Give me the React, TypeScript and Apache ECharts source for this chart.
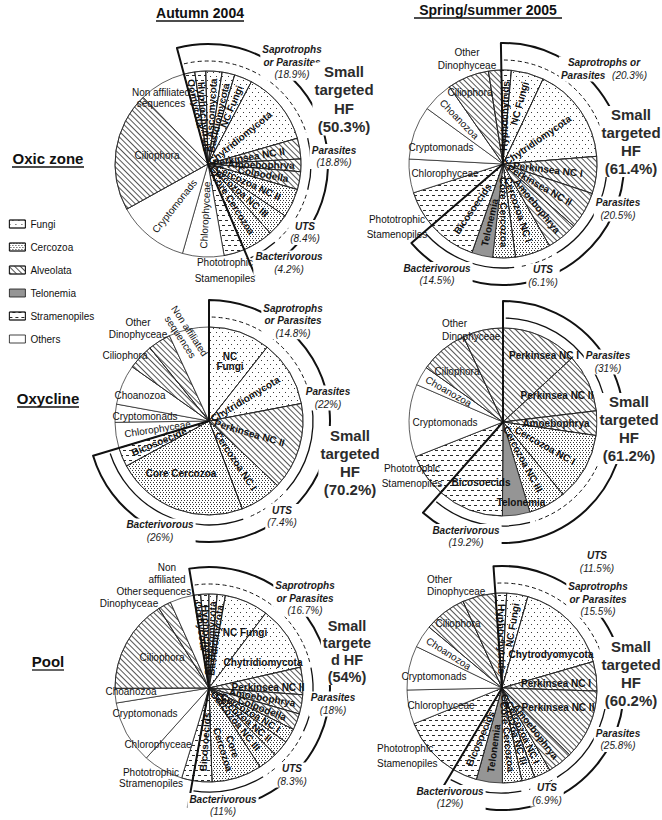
import React, { useEffect, useRef } from "react";
import * as echarts from "echarts";

const FONT = '"Liberation Sans", Arial, Helvetica, sans-serif';

// ---------------- DATA ----------------
const legendNames = ["Fungi", "Cercozoa", "Alveolata", "Telonemia", "Stramenopiles", "Others"];
const legendKinds = ["F", "C", "A", "T", "S", "O"];

// Autumn 2004 - Oxic zone
const tlNames = ["Oomycota", "Hyphochytrids", "Ascomycota", "Basidiomycota", "NC Fungi", "Chytridiomycota", "Perkinsea NC II", "Amoebophrya", "Colpodella", "Cercozoa NC II", "Cercozoa NC III", "Core Cercozoa", "Phototrophic Stamenopiles", "Chlorophyceae", "Cryptomonads", "Ciliophora", "Non affiliated sequences"];
const tlValues = [1.9, 1.9, 2.8, 2.2, 3.1, 12.8, 3.6, 2.2, 3.1, 5.0, 3.9, 5.3, 3.6, 7.2, 12.5, 20.8, 8.1];
const tlKinds = ["S", "S", "F", "F", "F", "F", "A", "A", "A", "C", "C", "C", "S", "O", "O", "A", "O"];
const tlGroupNames = ["Saprotrophs or Parasites", "Parasites", "UTS", "Bacterivorous"];
const tlGroupCounts = [6, 3, 2, 1];
const tlGroupPct = [18.9, 18.8, 8.4, 4.2];
const tlTargetedHF = 50.3;

// Spring/summer 2005 - Oxic zone
const trNames = ["Hyphochytrids", "NC Fungi", "Chytridiomycota", "Perkinsea NC I", "Perkinsea NC II", "Amoebophrya", "Cercozoa NC I", "Core Cercozoa", "Telonemia", "Bicosoecids", "Phototrophic Stamenopiles", "Chlorophyceae", "Cryptomonads", "Choanozoa", "Ciliophora", "Other Dinophyceae"];
const trValues = [1.7, 5.6, 16.7, 6.4, 6.4, 5.3, 6.1, 3.9, 3.6, 8.3, 6.4, 5.8, 9.2, 5.3, 7.2, 2.2];
const trKinds = ["S", "F", "F", "A", "A", "A", "C", "C", "T", "S", "S", "O", "O", "O", "A", "A"];
const trGroupNames = ["Saprotrophs or Parasites", "Parasites", "UTS", "Bacterivorous"];
const trGroupCounts = [3, 3, 1, 3];
const trGroupPct = [20.3, 20.5, 6.1, 14.5];
const trTargetedHF = 61.4;

// Autumn 2004 - Oxycline
const mlNames = ["NC Fungi", "Chytridiomycota", "Perkinsea NC II", "Cercozoa NC I", "Core Cercozoa", "Bicosoecide", "Chlorophyceae", "Cryptomonads", "Choanozoa", "Ciliophora", "Other Dinophyceae", "Non affiliated sequences"];
const mlValues = [10.6, 11.4, 15.0, 7.2, 22.8, 3.3, 4.4, 3.1, 6.9, 4.4, 3.9, 6.9];
const mlKinds = ["F", "F", "A", "C", "C", "S", "O", "O", "O", "A", "A", "O"];
const mlGroupNames = ["Saprotrophs or Parasites", "Parasites", "UTS", "Bacterivorous"];
const mlGroupCounts = [2, 1, 1, 2];
const mlGroupPct = [14.8, 22, 7.4, 26];
const mlTargetedHF = 70.2;

// Spring/summer 2005 - Oxycline
const mrNames = ["Perkinsea NC I", "Perkinsea NC II", "Amoebophrya", "Cercozoa NC I", "Cercozoa NC III", "Telonemia", "Bicosoecids", "Phototrophic Stamenopiles", "Cryptomonads", "Choanozoa", "Ciliophora", "Other Dinophyceae"];
const mrValues = [13.1, 10.0, 4.2, 11.7, 6.4, 4.7, 11.4, 7.5, 12.5, 3.3, 8.3, 6.9];
const mrKinds = ["A", "A", "A", "C", "C", "T", "S", "S", "O", "O", "A", "A"];
const mrGroupNames = ["Parasites", "UTS", "Bacterivorous"];
const mrGroupCounts = [3, 2, 2];
const mrGroupPct = [31, 11.5, 19.2];
const mrTargetedHF = 61.2;

// Autumn 2004 - Pool
const blNames = ["Oomycota", "Hyphochytrids", "Ascomycota", "Basidiomycota", "NC Fungi", "Chytridiomycota", "Perkinsea NC II", "Amoebophrya", "Colpodella", "Cercozoa NC I", "Cercozoa NC II", "Cercozoa NC III", "Core Cercozoa", "Bicosoecids", "Phototrophic Stramenopiles", "Chlorophyceae", "Cryptomonads", "Choanozoa", "Ciliophora", "Other Dinophyceae", "Non affiliated sequences"];
const blValues = [1.2, 1.4, 1.4, 1.4, 7.5, 11.1, 4.7, 3.3, 2.8, 2.5, 2.8, 3.3, 8.6, 3.3, 1.9, 6.9, 10.8, 2.5, 16.1, 2.2, 4.1];
const blKinds = ["S", "S", "F", "F", "F", "F", "A", "A", "A", "C", "C", "C", "C", "S", "S", "O", "O", "O", "A", "A", "O"];
const blGroupNames = ["Saprotrophs or Parasites", "Parasites", "UTS", "Bacterivorous"];
const blGroupCounts = [6, 3, 3, 2];
const blGroupPct = [16.7, 18, 8.3, 11];
const blTargetedHF = 54;

// Spring/summer 2005 - Pool
const brNames = ["Hyphochytrids", "NC Fungi", "Chytrodyomycota", "Perkinsea NC I", "Perkinsea NC II", "Amoebophrya", "Cercozoa NC I", "Cercozoa NC III", "Core Cercozoa", "Telonemia", "Bicosoecids", "Phototrophic Stamenopiles", "Chlorophyceae", "Cryptomonads", "Choanozoa", "Ciliophora", "Other Dinophyceae"];
const brValues = [1.9, 3.6, 16.1, 5.0, 11.9, 4.2, 2.8, 2.2, 3.3, 4.4, 4.2, 10.3, 5.8, 7.5, 3.9, 7.2, 5.6];
const brKinds = ["S", "F", "F", "A", "A", "A", "C", "C", "C", "T", "S", "S", "O", "O", "O", "A", "A"];
const brGroupNames = ["Saprotrophs or Parasites", "Parasites", "UTS", "Bacterivorous"];
const brGroupCounts = [3, 3, 2, 3];
const brGroupPct = [15.5, 25.8, 6.9, 12];
const brTargetedHF = 60.2;

// ---------------- STYLE / LAYOUT ----------------
const decals: Record<string, any> = {
  F: { symbol: "rect", symbolSize: 1, color: "#3a3a3a", dashArrayX: [[1, 5], [0, 3, 1, 2]], dashArrayY: [1, 3] },
  C: { symbol: "rect", symbolSize: 1, color: "#333333", dashArrayX: [[1, 2], [0, 1, 1, 1]], dashArrayY: [1, 1] },
  A: { symbol: "rect", symbolSize: 1, color: "#555555", dashArrayX: [1, 0], dashArrayY: [1, 3], rotation: Math.PI / 4 },
  S: { symbol: "rect", symbolSize: 1, color: "#2a2a2a", dashArrayX: [[3, 3], [0, 3, 3, 0]], dashArrayY: [1, 4] },
};

function sliceStyle(kind: string) {
  const s: any = {
    color: kind === "T" ? "#959595" : "#ffffff",
    borderColor: "#1a1a1a",
    borderWidth: 0.7,
  };
  if (decals[kind]) s.decal = decals[kind];
  return s;
}

type OutLabel = { text: string; x: number; y: number; lh: number; align?: string; rotation?: number };
type Layout = {
  cx: number; cy: number; R: number; start: number;
  pos: Record<string, number[]>;
  hidden: string[];
  labelText?: Record<string, string>;
  out: OutLabel[];
  groupPos: number[][];
  sapTwoLine?: boolean;
  hfPos: number[]; hfLH: number; hfSize?: number; hfLines?: string[];
};

const layouts: Record<string, Layout> = {
  tl: {
    cx: 208, cy: 164, R: 93, start: -15,
    pos: { Ciliophora: [157, 155] },
    hidden: ["Non affiliated sequences", "Phototrophic Stamenopiles"],
    out: [
      { text: "Non affiliated\nsequences", x: 161, y: 97.5, lh: 11 },
      { text: "Phototrophic\nStamenopiles", x: 225, y: 270, lh: 16 },
    ],
    groupPos: [[292, 62], [334, 156.5], [305, 232.5], [289, 263]],
    hfPos: [344, 99], hfLH: 18.3,
  },
  tr: {
    cx: 503, cy: 164, R: 94, start: -1,
    pos: { Chlorophyceae: [445, 173], Cryptomonads: [441, 147], Ciliophora: [470, 92] },
    hidden: ["Other Dinophyceae", "Phototrophic Stamenopiles"],
    out: [
      { text: "Other\nDinophyceae", x: 467, y: 58.5, lh: 13 },
      { text: "Phototrophic\nStamenopiles", x: 397, y: 226.5, lh: 15 },
    ],
    groupPos: [[604, 69], [618, 209], [543, 276], [437, 274.5]],
    sapTwoLine: true,
    hfPos: [631, 141.5], hfLH: 17.7,
  },
  ml: {
    cx: 209, cy: 421, R: 94, start: 0,
    pos: { "NC Fungi": [230, 361], "Core Cercozoa": [181, 473], Cryptomonads: [145, 416], Choanozoa: [140, 395] },
    hidden: ["Other Dinophyceae", "Ciliophora", "Non affiliated sequences"],
    labelText: { "NC Fungi": "NC\nFungi" },
    out: [
      { text: "Other\nDinophyceae", x: 138, y: 328, lh: 12 },
      { text: "Ciliophora", x: 125, y: 355, lh: 12 },
      { text: "Non affiliated\nsequences", x: 185, y: 334, lh: 11, rotation: -0.99 },
    ],
    groupPos: [[293, 320.5], [328, 398], [282, 516.5], [160, 531]],
    hfPos: [350, 462], hfLH: 18,
  },
  mr: {
    cx: 503, cy: 422, R: 94, start: 0,
    pos: {
      "Perkinsea NC I": [544, 355], "Perkinsea NC II": [557, 395], Amoebophrya: [556, 423],
      Telonemia: [521, 502], Bicosoecids: [481, 482], Cryptomonads: [445, 422], Ciliophora: [457, 371],
    },
    hidden: ["Other Dinophyceae", "Phototrophic Stamenopiles"],
    out: [
      { text: "Other\nDinophyceae", x: 442, y: 329.5, lh: 13, align: "left" },
      { text: "Phototrophic\nStamenopiles", x: 412, y: 475.5, lh: 15 },
    ],
    groupPos: [[608, 362], [597, 562], [466, 536.5]],
    hfPos: [629, 428.5], hfLH: 17.7,
  },
  bl: {
    cx: 209, cy: 688, R: 94, start: -9.4,
    pos: {
      "NC Fungi": [245, 632], Chytridiomycota: [263, 662], "Perkinsea NC II": [268, 687],
      Chlorophyceae: [158, 744], Cryptomonads: [145, 713], Choanozoa: [131, 691], Ciliophora: [162, 657],
    },
    hidden: ["Non affiliated sequences", "Other Dinophyceae", "Phototrophic Stramenopiles"],
    labelText: { "Core Cercozoa": "Core\nCercozoa" },
    out: [
      { text: "Non\naffiliated\nsequences", x: 167, y: 579, lh: 12 },
      { text: "Other\nDinophyceae", x: 129, y: 597, lh: 12 },
      { text: "Phototrophic\nStramenopiles", x: 151, y: 777.5, lh: 11 },
    ],
    groupPos: [[305, 598], [333, 704], [292, 775], [223, 805.5]],
    hfPos: [347, 651], hfLH: 17, hfSize: 14.5, hfLines: ["Small", "targete", "d HF"],
  },
  br: {
    cx: 502, cy: 688, R: 95, start: -4,
    pos: {
      Chytrodyomycota: [551, 654], "Perkinsea NC I": [556, 683], "Perkinsea NC II": [558, 707],
      Chlorophyceae: [441, 705], Cryptomonads: [434, 676], Ciliophora: [458, 623],
    },
    hidden: ["Other Dinophyceae", "Phototrophic Stamenopiles"],
    out: [
      { text: "Other\nDinophyceae", x: 427, y: 585, lh: 12, align: "left" },
      { text: "Phototrophic\nStamenopiles", x: 377, y: 755.5, lh: 15, align: "left" },
    ],
    groupPos: [[598, 599], [618, 739.5], [547, 794], [450, 797.5]],
    hfPos: [631, 673], hfLH: 18,
  },
};

type PanelData = {
  names: string[]; values: number[]; kinds: string[];
  groupNames: string[]; groupCounts: number[]; groupPct: number[]; hf: number;
};

const panels: [string, PanelData][] = [
  ["tl", { names: tlNames, values: tlValues, kinds: tlKinds, groupNames: tlGroupNames, groupCounts: tlGroupCounts, groupPct: tlGroupPct, hf: tlTargetedHF }],
  ["tr", { names: trNames, values: trValues, kinds: trKinds, groupNames: trGroupNames, groupCounts: trGroupCounts, groupPct: trGroupPct, hf: trTargetedHF }],
  ["ml", { names: mlNames, values: mlValues, kinds: mlKinds, groupNames: mlGroupNames, groupCounts: mlGroupCounts, groupPct: mlGroupPct, hf: mlTargetedHF }],
  ["mr", { names: mrNames, values: mrValues, kinds: mrKinds, groupNames: mrGroupNames, groupCounts: mrGroupCounts, groupPct: mrGroupPct, hf: mrTargetedHF }],
  ["bl", { names: blNames, values: blValues, kinds: blKinds, groupNames: blGroupNames, groupCounts: blGroupCounts, groupPct: blGroupPct, hf: blTargetedHF }],
  ["br", { names: brNames, values: brValues, kinds: brKinds, groupNames: brGroupNames, groupCounts: brGroupCounts, groupPct: brGroupPct, hf: brTargetedHF }],
];

const sum = (a: number[]) => a.reduce((s, v) => s + v, 0);

const groupRich = {
  n: { fontFamily: FONT, fontSize: 10, fontWeight: "bold", fontStyle: "italic", fill: "#1a1a1a", lineHeight: 12.5 },
  p: { fontFamily: FONT, fontSize: 10, fontStyle: "italic", fill: "#1a1a1a", lineHeight: 12.5 },
};

function buildPanel(L: Layout, P: PanelData, series: any[], graphics: any[]) {
  const { names, values, kinds, groupNames, groupCounts, groupPct, hf } = P;
  const total = sum(values);
  const hfCount = sum(groupCounts);
  const hfSum = sum(values.slice(0, hfCount));
  const ang = (k: number) => L.start + (360 * sum(values.slice(0, k))) / total;
  const ecStart = 90 - L.start;

  series.push({
    type: "pie",
    center: [L.cx, L.cy],
    radius: [0, L.R],
    startAngle: ecStart,
    clockwise: true,
    silent: true,
    avoidLabelOverlap: false,
    emphasis: { disabled: true },
    labelLine: { show: false },
    label: { show: true, position: "inside", rotate: "radial", fontFamily: FONT, fontSize: 10, color: "#111" },
    labelLayout: (prm: any) => {
      const i = prm.dataIndex;
      const pos = L.pos[names[i]];
      if (pos) return { x: pos[0], y: pos[1] };
      const text = String(prm.text || names[i]);
      const maxLen = Math.max(...text.split("\n").map((s) => s.length));
      const w = maxLen * (i < hfCount ? 5.9 : 5.3);
      const rc = Math.min(Math.max(0.92 * L.R - w / 2, 0.3 * L.R), 0.72 * L.R);
      const a = (((ang(i) + ang(i + 1)) / 2) * Math.PI) / 180;
      return { x: L.cx + rc * Math.sin(a), y: L.cy - rc * Math.cos(a) };
    },
    data: names.map((n, i) => ({
      name: n,
      value: values[i],
      itemStyle: sliceStyle(kinds[i]),
      label: {
        show: !L.hidden.includes(n),
        rotate: L.pos[n] ? 0 : "radial",
        fontWeight: i < hfCount ? "bold" : "normal",
        formatter: (L.labelText && L.labelText[n]) || n,
      },
    })),
  });

  // bold outline of the "small targeted HF" wedge
  series.push({
    type: "pie",
    center: [L.cx, L.cy],
    radius: [0, L.R + 27],
    startAngle: ecStart,
    clockwise: true,
    silent: true,
    z: 3,
    label: { show: false },
    labelLine: { show: false },
    emphasis: { disabled: true },
    data: [
      { value: hfSum, name: "", itemStyle: { color: "rgba(0,0,0,0)", borderColor: "#111", borderWidth: 2 } },
      { value: total - hfSum, name: "", itemStyle: { color: "rgba(0,0,0,0)", borderWidth: 0 } },
    ],
  });

  // trophic group arcs
  let k = 0;
  groupNames.forEach((g, j) => {
    const a1 = ang(k) + 1.5;
    const a2 = ang(k + groupCounts[j]) - 1.5;
    k += groupCounts[j];
    const dashed = g === "UTS" || g === "Saprotrophs or Parasites";
    graphics.push({
      type: "arc",
      silent: true,
      z: 5,
      shape: { cx: L.cx, cy: L.cy, r: L.R + 10, startAngle: ((a1 - 90) * Math.PI) / 180, endAngle: ((a2 - 90) * Math.PI) / 180, clockwise: true },
      style: { stroke: "#111", lineWidth: dashed ? 1 : 1.3, fill: "none", lineDash: dashed ? [4, 3] : null },
    });
    const pct = `(${groupPct[j]}%)`;
    let text: string;
    if (g === "Saprotrophs or Parasites") {
      text = L.sapTwoLine
        ? `{n|Saprotrophs or}\n{n|Parasites}  {p|${pct}}`
        : `{n|Saprotrophs}\n{n|or Parasites}\n{p|${pct}}`;
    } else {
      text = `{n|${g}}\n{p|${pct}}`;
    }
    const gp = L.groupPos[j];
    graphics.push({
      type: "text", silent: true, z: 20, x: gp[0], y: gp[1],
      style: { text, rich: groupRich, align: "center", verticalAlign: "middle", backgroundColor: "#fff", padding: [0, 2] },
    });
  });

  // "Small targeted HF" caption
  const hfLines = (L.hfLines || ["Small", "targeted", "HF"]).concat([`(${hf}%)`]);
  graphics.push({
    type: "text", silent: true, z: 20, x: L.hfPos[0], y: L.hfPos[1],
    style: {
      text: hfLines.join("\n"), fontFamily: FONT, fontSize: L.hfSize || 15, fontWeight: "bold", fill: "#2b2b2b",
      lineHeight: L.hfLH, align: "center", verticalAlign: "middle", backgroundColor: "#fff", padding: [0, 2],
    },
  });

  // slice labels placed outside the pie
  L.out.forEach((o) => {
    graphics.push({
      type: "text", silent: true, z: 20, x: o.x, y: o.y, rotation: o.rotation || 0,
      style: {
        text: o.text, fontFamily: FONT, fontSize: 10, fill: "#111", lineHeight: o.lh,
        align: o.align || "center", verticalAlign: "middle",
      },
    });
  });
}

function buildOption() {
  const series: any[] = [];
  const graphics: any[] = [];
  panels.forEach(([key, P]) => buildPanel(layouts[key], P, series, graphics));

  // dummy series feeding the legend
  series.push({
    type: "pie",
    name: "legend",
    center: [-100, -100],
    radius: [0, 0],
    silent: true,
    label: { show: false },
    labelLine: { show: false },
    data: legendNames.map((n, i) => ({ name: n, value: 1, itemStyle: sliceStyle(legendKinds[i]) })),
  });

  const bold = (text: string, x: number, y: number, size: number) => ({
    type: "text", silent: true, z: 20, x, y,
    style: { text, fontFamily: FONT, fontSize: size, fontWeight: "bold", fill: "#111", align: "center", verticalAlign: "middle" },
  });
  const uline = (x1: number, x2: number, y: number) => ({
    type: "line", silent: true, z: 20, shape: { x1, y1: y, x2, y2: y }, style: { stroke: "#111", lineWidth: 1.3 },
  });
  graphics.push(bold("Autumn 2004", 200, 13, 14), uline(156, 244, 21));
  graphics.push(bold("Spring/summer 2005", 488, 10, 14), uline(414, 562, 18));
  graphics.push(bold("Oxic zone", 48, 158, 15), uline(12, 84, 167));
  graphics.push(bold("Oxycline", 48, 398, 15), uline(17, 79, 407));
  graphics.push(bold("Pool", 48, 661, 15), uline(32, 64, 670));

  return {
    animation: false,
    backgroundColor: "#ffffff",
    textStyle: { fontFamily: FONT },
    legend: {
      orient: "vertical",
      left: 9,
      top: 219,
      padding: 0,
      icon: "rect",
      itemWidth: 16,
      itemHeight: 8,
      itemGap: 13,
      selectedMode: false,
      data: legendNames,
      itemStyle: { borderColor: "#111", borderWidth: 0.8 },
      textStyle: { fontFamily: FONT, fontSize: 10, color: "#111" },
    },
    series,
    graphic: { elements: graphics },
  };
}

export default function App() {
  const ref = useRef<HTMLDivElement>(null);
  useEffect(() => {
    if (!ref.current) return;
    const chart = echarts.init(ref.current, undefined, { renderer: "svg" });
    chart.setOption(buildOption() as any);
    return () => chart.dispose();
  }, []);
  return (
    <div
      ref={ref}
      style={{ position: "fixed", left: 0, top: 0, width: 662, height: 820, background: "#fff" }}
    />
  );
}
